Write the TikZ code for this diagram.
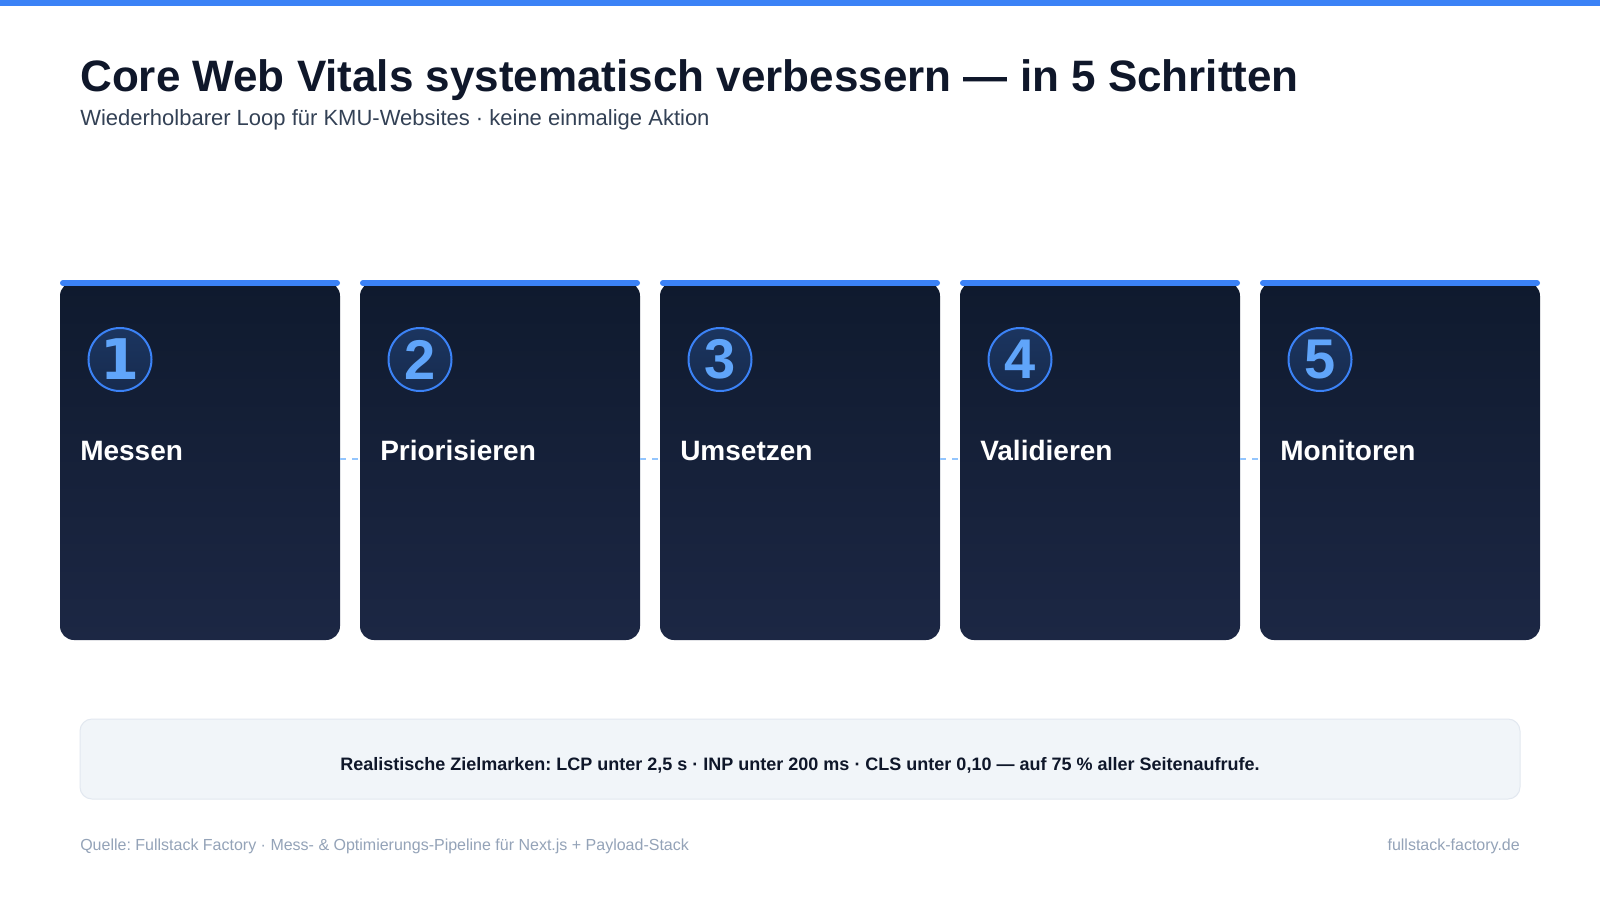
\documentclass[tikz,border=0pt]{standalone}
\usepackage{fontspec}
\setmainfont{Liberation Sans}
\newfontfamily\digitfont{DejaVu Sans}
\frenchspacing
\definecolor{accent}{HTML}{3B82F6}
\definecolor{ink}{HTML}{0F172A}
\definecolor{subink}{HTML}{334155}
\definecolor{muted}{HTML}{94A3B8}
\definecolor{cardtop}{HTML}{0F1A2E}
\definecolor{cardbot}{HTML}{1C2744}
\definecolor{digitblue}{HTML}{60A5FA}
\definecolor{circtop}{HTML}{1B3560}
\definecolor{circbot}{HTML}{172B4E}
\definecolor{dashblue}{HTML}{93C5FD}
\definecolor{notefill}{HTML}{F1F5F9}
\definecolor{noteline}{HTML}{E2E8F0}
\newcommand{\px}[1]{\pgfmathsetmacro\pxsz{#1*0.75}\pgfmathsetmacro\pxbs{#1*0.9}\fontsize{\pxsz pt}{\pxbs pt}\selectfont}
\tikzset{
  cardbox/.style={rounded corners=14*0.75pt, top color=cardtop, bottom color=cardbot, draw=none},
  topbar/.style={draw=accent, line width=6*0.75pt, line cap=round},
  numcirc/.style={circle, minimum size=63*0.75pt, inner sep=0pt, draw=accent, line width=2*0.75pt, top color=circtop, bottom color=circbot, text=digitblue, font=\bfseries\px{56}},
  cardlabel/.style={anchor=base west, inner sep=0pt, text=white, font=\bfseries\px{28}},
  linkline/.style={draw=dashblue, line width=2.5*0.75pt, dash pattern=on 6*0.75pt off 6*0.75pt},
}
\begin{document}
\begin{tikzpicture}[x=0.75pt, y=-0.75pt]
\useasboundingbox (0,0) rectangle (1600,900);
\fill[white] (0,0) rectangle (1600,900);
\fill[accent] (0,0) rectangle (1600,6);
\node[anchor=base west, inner sep=0pt, text=ink, font=\bfseries\px{44}] (title) at (80,91.5) {Core Web Vitals systematisch verbessern — in 5 Schritten};
\node[anchor=base west, inner sep=0pt, text=subink, font=\px{22}] (subtitle) at (80,125) {Wiederholbarer Loop für KMU-Websites · keine einmalige Aktion};
% cards
\foreach \i/\lab/\dig in {1/Messen/{\digitfont 1},2/Priorisieren/2,3/Umsetzen/3,4/Validieren/4,5/Monitoren/5}{
  \pgfmathsetmacro{\xl}{60+(\i-1)*300}
  \pgfmathsetmacro{\xr}{\xl+280}
  \path[cardbox] (\xl,282) rectangle (\xr,640);
  \coordinate (cl\i) at (\xr,459);
  \coordinate (cr\i) at (\xl,459);
  \draw[topbar] (\xl+3,283) -- (\xr-3,283);
  \node[numcirc] (n\i) at (\xl+60,359.5) {\dig};
  \node[cardlabel] (t\i) at (\xl+20,460) {\lab};
}
\foreach \a/\b in {1/2,2/3,3/4,4/5}{
  \draw[linkline] (cl\a) -- (cr\b);
}
\node[draw=noteline, fill=notefill, rounded corners=12*0.75pt, line width=1*0.75pt, minimum width=1440*0.75pt, minimum height=80*0.75pt, inner sep=0pt] (note) at (800,759) {};
\node[anchor=base, inner sep=0pt, text=ink, font=\bfseries\px{18}] (notetext) at (800,770) {Realistische Zielmarken: LCP unter 2,5 s · INP unter 200 ms · CLS unter 0,10 — auf 75 \% aller Seitenaufrufe.};
\node[anchor=base west, inner sep=0pt, text=muted, font=\px{16}] (src) at (80,850) {Quelle: Fullstack Factory · Mess- \& Optimierungs-Pipeline für Next.js + Payload-Stack};
\node[anchor=base east, inner sep=0pt, text=muted, font=\px{16}] (site) at (1520,850) {fullstack-factory.de};
\end{tikzpicture}
\end{document}
